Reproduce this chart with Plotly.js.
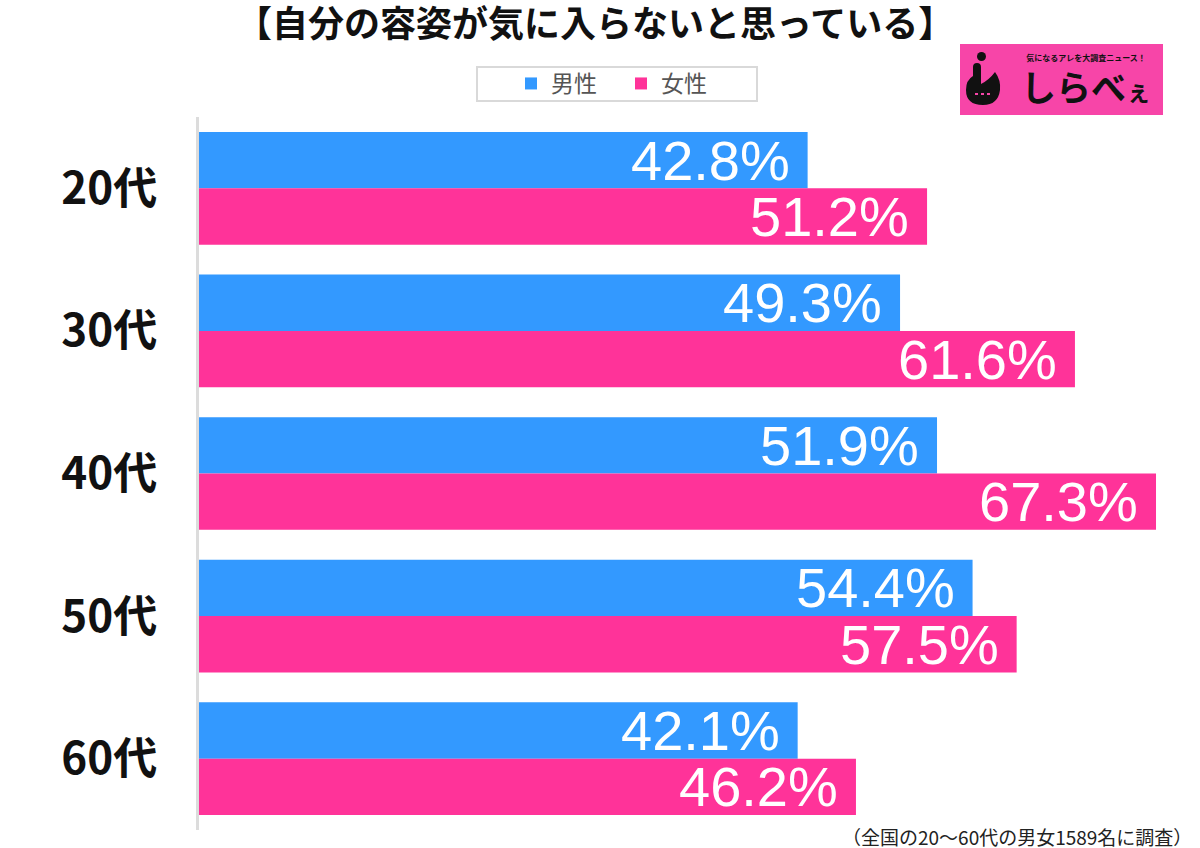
<!DOCTYPE html>
<html>
<head>
<meta charset="utf-8">
<script src="https://cdn.plot.ly/plotly-3.0.1.min.js"></script>
<style>html,body{margin:0;padding:0;background:#fff;}#chart{width:1200px;height:848px;}</style>
</head>
<body>
<div id="chart"></div>
<script>
const categories = ["20代", "30代", "40代", "50代", "60代"];
const male = [42.8, 49.3, 51.9, 54.4, 42.1];
const female = [51.2, 61.6, 67.3, 57.5, 46.2];
const seriesNames = ["男性", "女性"];
const titleText = "【自分の容姿が気に入らないと思っている】";
const noteText = "（全国の20～60代の男女1589名に調査）";
const logoTagline = "気になるアレを大調査ニュース！";
const logoMain = "しらべ";
const logoSmall = "ぇ";

const BLUE = "#3399FF", PINK = "#FF3399", LOGO = "#F745A8";
const W = 1200, H = 848;
const L = 199, R = 1170, T = 117, B = 830;
const px = v => (v - L) / (R - L);
const py = v => (B - v) / (B - T);
const pt = (x, y) => px(x) + "," + py(y);

const bargap = 0.21;
const half = (1 - bargap) / 4;

const traces = [
  {type: "bar", orientation: "h", name: seriesNames[0], y: categories, x: male,
   marker: {color: BLUE}, hoverinfo: "skip"},
  {type: "bar", orientation: "h", name: seriesNames[1], y: categories, x: female,
   marker: {color: PINK}, hoverinfo: "skip"}
];

const annotations = [];
[male, female].forEach((arr, s) => {
  arr.forEach((v, i) => {
    annotations.push({
      x: v, y: i + (s === 0 ? -half : half), xref: "x", yref: "y",
      text: v.toFixed(1) + "%", showarrow: false, xanchor: "right", yanchor: "middle",
      xshift: -16, font: {family: "Liberation Sans, Arial, sans-serif", size: 56, color: "#fff"}
    });
  });
});

annotations.push({
  xref: "paper", yref: "paper", x: px(1194), y: py(836), xanchor: "right", yanchor: "middle",
  text: noteText, showarrow: false, height: 22,
  font: {family: "Noto Sans CJK JP, sans-serif", size: 19, color: "#222"}
});
// logo text (one block)
annotations.push({
  xref: "paper", yref: "paper", x: px(1086), y: py(82), xanchor: "center", yanchor: "middle",
  text: '<span style="font-size:8px">' + logoTagline + '</span><br><span style="font-size:35px">' +
        logoMain + '</span><span style="font-size:25px">' + logoSmall + '</span>',
  showarrow: false, align: "center",
  font: {family: "Noto Sans CJK JP, sans-serif", size: 31, color: "#111", weight: "bold"}
});

const shapes = [
  // legend frame
  {type: "rect", xref: "paper", yref: "paper", x0: px(477), x1: px(757), y0: py(67), y1: py(101),
   fillcolor: "rgba(0,0,0,0)", line: {color: "#d9d9d9", width: 2}, layer: "above"},
  // logo
  {type: "rect", xref: "paper", yref: "paper", x0: px(960), x1: px(1163), y0: py(44), y1: py(115),
   fillcolor: LOGO, line: {width: 0}, layer: "below"},
  {type: "circle", xref: "paper", yref: "paper", x0: px(977), x1: px(986), y0: py(52), y1: py(61),
   fillcolor: "#111", line: {width: 0}, layer: "below"},
  {type: "path", xref: "paper", yref: "paper", layer: "below", fillcolor: "#111", line: {width: 0},
   path: "M " + pt(973, 67) + " Q " + pt(973, 63) + " " + pt(977, 63) +
         " Q " + pt(981, 63) + " " + pt(981, 67) +
         " L " + pt(981, 84) +
         " Q " + pt(989, 80) + " " + pt(995, 72) +
         " Q " + pt(1001, 80) + " " + pt(1000, 90) +
         " Q " + pt(998, 105) + " " + pt(983, 105) +
         " Q " + pt(966, 105) + " " + pt(966, 90) +
         " Q " + pt(966, 80) + " " + pt(973, 76) + " Z"},
  {type: "line", xref: "paper", yref: "paper", layer: "below", x0: px(975), x1: px(992), y0: py(94), y1: py(94),
   line: {color: LOGO, width: 2, dash: "dot"}}
];

const layout = {
  width: W, height: H,
  margin: {l: L, r: W - R, t: T, b: H - B},
  paper_bgcolor: "#fff", plot_bgcolor: "#fff",
  barmode: "group", bargap: bargap, bargroupgap: 0,
  title: {text: titleText, xref: "container", yref: "container", x: 0.496, y: 1 - 24 / H,
          xanchor: "center", yanchor: "middle",
          font: {family: "Noto Sans CJK JP, sans-serif", size: 36, color: "#111", weight: "bold"}},
  showlegend: true,
  legend: {orientation: "h", xref: "container", yref: "container", x: 511 / W, y: 1 - 62 / H,
           xanchor: "left", yanchor: "top", borderwidth: 0, bgcolor: "rgba(0,0,0,0)",
           entrywidth: 65, entrywidthmode: "pixels",
           font: {family: "Noto Sans CJK JP, sans-serif", size: 23, color: "#555"},
           traceorder: "normal", itemclick: false},
  xaxis: {range: [0, (R - L) / 14.22], showgrid: false, zeroline: false, showline: false,
          showticklabels: false, ticks: "", fixedrange: true},
  yaxis: {type: "category", autorange: "reversed", showgrid: false, zeroline: false,
          showline: true, linecolor: "#dcdcdc", linewidth: 3, ticks: "", ticklabelstandoff: 30,
          tickfont: {family: "Noto Sans CJK JP, sans-serif", size: 44, color: "#111", weight: "bold"},
          fixedrange: true},
  annotations: annotations,
  shapes: shapes
};

Plotly.newPlot("chart", traces, layout, {displayModeBar: false, staticPlot: true});
</script>
</body>
</html>
